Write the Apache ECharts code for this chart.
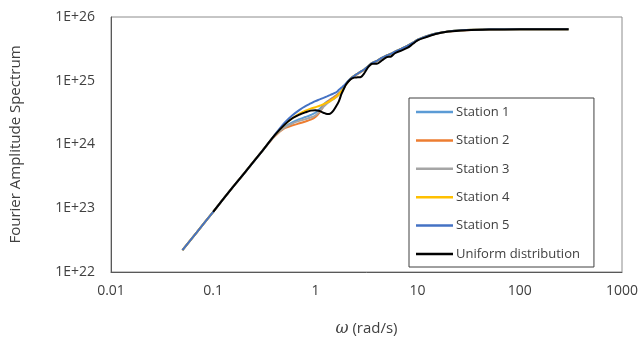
<!DOCTYPE html>
<html>
<head>
<meta charset="utf-8">
<script src="https://cdn.jsdelivr.net/npm/echarts@6/dist/echarts.min.js"></script>
<style>html,body{margin:0;padding:0;background:#fff}#c{width:643px;height:342px}</style>
</head>
<body>
<div id="c"></div>
<script>
const omega = [0.05,0.07,0.1,0.15,0.2,0.3,0.4,0.5,0.6,0.7,0.8,0.9,1.0,1.1,1.2,1.3,1.4,1.5,1.6,1.7,1.8,1.9,2.0,2.2,2.4,2.6,2.8,3.0,3.3,3.6,4.0,4.5,5.0,5.5,6.0,7,8,9,10,12,15,20,30,50,100,200,300];

const station1 = [2.2e22,4.3e22,8.8e22,2.0e23,3.5e23,7.8e23,1.38e24,1.9e24,2.25e24,2.5e24,2.7e24,2.9e24,3.15e24,3.6e24,4.2e24,4.7e24,5.1e24,5.5e24,5.9e24,6.4e24,7.0e24,7.9e24,8.9e24,1.07e25,1.19e25,1.29e25,1.39e25,1.49e25,1.69e25,1.89e25,2.04e25,2.29e25,2.49e25,2.64e25,2.84e25,3.19e25,3.54e25,3.94e25,4.38e25,4.93e25,5.48e25,5.93e25,6.23e25,6.38e25,6.43e25,6.43e25,6.43e25];
const station2 = [2.2e22,4.3e22,8.8e22,2.0e23,3.5e23,7.8e23,1.35e24,1.8e24,2.0e24,2.15e24,2.3e24,2.45e24,2.7e24,3.2e24,4.0e24,4.6e24,5.0e24,5.4e24,5.8e24,6.3e24,6.8e24,7.8e24,8.8e24,1.06e25,1.18e25,1.28e25,1.38e25,1.48e25,1.68e25,1.88e25,2.03e25,2.28e25,2.48e25,2.63e25,2.83e25,3.18e25,3.53e25,3.93e25,4.37e25,4.92e25,5.47e25,5.92e25,6.22e25,6.37e25,6.42e25,6.42e25,6.42e25];
const station3 = [2.2e22,4.3e22,8.8e22,2.0e23,3.5e23,7.8e23,1.37e24,1.85e24,2.15e24,2.35e24,2.5e24,2.65e24,2.85e24,3.3e24,3.9e24,4.4e24,4.8e24,5.15e24,5.5e24,6.0e24,6.6e24,7.7e24,8.8e24,1.07e25,1.19e25,1.29e25,1.39e25,1.49e25,1.69e25,1.89e25,2.04e25,2.29e25,2.49e25,2.64e25,2.84e25,3.19e25,3.54e25,3.94e25,4.39e25,4.94e25,5.49e25,5.94e25,6.24e25,6.39e25,6.44e25,6.44e25,6.44e25];
const station4 = [2.2e22,4.3e22,8.8e22,2.0e23,3.5e23,7.8e23,1.4e24,2.05e24,2.6e24,3.05e24,3.4e24,3.65e24,3.85e24,4.05e24,4.3e24,4.55e24,4.85e24,5.2e24,5.6e24,6.2e24,6.9e24,7.9e24,8.9e24,1.08e25,1.2e25,1.3e25,1.4e25,1.5e25,1.7e25,1.9e25,2.05e25,2.3e25,2.5e25,2.65e25,2.85e25,3.2e25,3.55e25,3.95e25,4.4e25,4.95e25,5.5e25,5.95e25,6.25e25,6.4e25,6.45e25,6.45e25,6.45e25];
const station5 = [2.2e22,4.3e22,8.8e22,2.0e23,3.5e23,7.8e23,1.42e24,2.2e24,2.9e24,3.5e24,4.0e24,4.4e24,4.8e24,5.1e24,5.4e24,5.7e24,6.0e24,6.3e24,6.6e24,7.2e24,7.8e24,8.4e24,9.2e24,1.08e25,1.2e25,1.3e25,1.4e25,1.5e25,1.7e25,1.9e25,2.05e25,2.3e25,2.5e25,2.65e25,2.85e25,3.2e25,3.55e25,3.95e25,4.4e25,4.95e25,5.5e25,5.95e25,6.25e25,6.4e25,6.45e25,6.45e25,6.45e25];
const uniform = [null,null,8.8e22,2.0e23,3.5e23,7.8e23,1.4e24,2.05e24,2.6e24,2.95e24,3.2e24,3.4e24,3.45e24,3.35e24,3.15e24,3.0e24,3.05e24,3.4e24,4.0e24,4.8e24,6.2e24,7.5e24,8.8e24,1.05e25,1.12e25,1.13e25,1.15e25,1.3e25,1.65e25,1.85e25,1.85e25,2.1e25,2.35e25,2.4e25,2.7e25,3.0e25,3.3e25,3.8e25,4.3e25,4.8e25,5.4e25,5.9e25,6.2e25,6.35e25,6.4e25,6.4e25,6.4e25];

const seriesNames = ['Station 1','Station 2','Station 3','Station 4','Station 5','Uniform distribution'];
const seriesData = [station1,station2,station3,station4,station5,uniform];
const seriesColors = ['#5B9BD5','#ED7D31','#A5A5A5','#FFC000','#4472C4','#000000'];

const xTicks = ['0.01','0.1','1','10','100','1000'];
const yTicks = ['1E+22','1E+23','1E+24','1E+25','1E+26'];

const font = '"Open Sans", sans-serif';
const chart = echarts.init(document.getElementById('c'));
chart.setOption({
  animation: false,
  grid: {left:107, right:21, top:17, bottom:58, show:true, borderColor:'#8c8c8c', borderWidth:1},
  legend: {
    orient:'vertical', left:409, top:98,
    padding:[7,14,6,7],
    borderColor:'#404040', borderWidth:1,
    itemWidth:37, itemHeight:2.5, itemGap:14.4, icon:'rect',
    textStyle:{color:'#404040', fontSize:13, fontFamily:font, lineHeight:14, padding:[0,0,0,-2]},
    data: seriesNames
  },
  xAxis: {
    type:'log', logBase:10, min:0.01, max:1000,
    axisLine:{show:true, lineStyle:{color:'#595959', width:1}},
    axisTick:{show:false}, splitLine:{show:false},
    axisLabel:{color:'#404040', fontSize:14, fontFamily:font, margin:12,
      formatter:function(v){const e=Math.round(Math.log10(v)); return xTicks[e+2];}},
    name:'{w|ω} (rad/s)', nameLocation:'middle', nameGap:49,
    nameTextStyle:{color:'#404040', fontSize:15, fontFamily:font,
      rich:{w:{fontStyle:'italic', fontSize:16, fontFamily:'"DejaVu Serif", serif', color:'#404040'}}}
  },
  yAxis: {
    type:'log', logBase:10, min:1e22, max:1e26,
    axisLine:{show:true, lineStyle:{color:'#595959', width:1}},
    axisTick:{show:false}, splitLine:{show:false},
    axisLabel:{color:'#404040', fontSize:14, fontFamily:font, margin:16,
      formatter:function(v){const e=Math.round(Math.log10(v)); return yTicks[e-22];}},
    name:'Fourier Amplitude Spectrum', nameLocation:'middle', nameGap:88, nameRotate:90,
    nameTextStyle:{color:'#404040', fontSize:15, fontFamily:font}
  },
  series: seriesNames.map(function(n,i){
    return {
      name:n, type:'line', showSymbol:false, symbol:'none', smooth:0.3,
      color:seriesColors[i],
      lineStyle:{width:2, color:seriesColors[i]},
      data: omega.map(function(w,j){return seriesData[i][j]===null?null:[w, seriesData[i][j]];}).filter(function(p){return p!==null;})
    };
  })
});
</script>
</body>
</html>
